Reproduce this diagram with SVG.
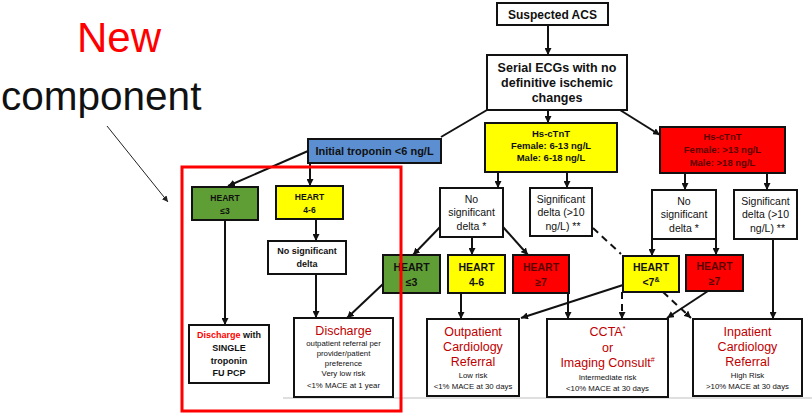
<svg xmlns="http://www.w3.org/2000/svg" width="812" height="416" viewBox="0 0 812 416">
<style>
.t{font-family:"Liberation Sans",Arial,sans-serif;text-anchor:middle;fill:#111}
.b{font-weight:bold}
.box{stroke:#111;stroke-width:2}
.w{fill:#fff}
.y{fill:#ffff00}
.g{fill:#5f9e35}
.r{fill:#ff0000}
.bl{fill:#5b8fd2}
.dr{fill:#5a0000}
.rt{fill:#c00000}
.c{stroke:#111;stroke-width:2;fill:none}
.d{stroke-dasharray:7,5}
</style>
<defs>
<marker id="ah" viewBox="0 0 10 10" refX="10" refY="5" markerWidth="7" markerHeight="7" markerUnits="userSpaceOnUse" orient="auto"><path d="M0,0 L10,5 L0,10 z" fill="#111"/></marker>
<marker id="ah2" viewBox="0 0 10 10" refX="10" refY="5" markerWidth="6" markerHeight="6" markerUnits="userSpaceOnUse" orient="auto"><path d="M0,0 L10,5 L0,10 z" fill="#222"/></marker>
</defs>
<rect width="812" height="416" fill="#fff"/>

<g id="label-new">
<text x="77" y="52" style="font-family:'Liberation Sans',Arial,sans-serif;font-size:42px;fill:#ff0000">New</text>
<text x="1" y="110" style="font-family:'Liberation Sans',Arial,sans-serif;font-size:40.5px;fill:#111">component</text>
</g>

<line x1="283" y1="398" x2="812" y2="398" stroke="#d4d4d4" stroke-width="1.5"/>

<g id="connectors">
<line class="c" x1="548" y1="25" x2="548" y2="55" marker-end="url(#ah)"/>
<line class="c" x1="487" y1="110" x2="441" y2="137"/>
<line class="c" x1="548" y1="110" x2="548" y2="123" marker-end="url(#ah)"/>
<line class="c" x1="620" y1="110" x2="660" y2="135" marker-end="url(#ah)"/>
<line class="c" x1="308" y1="151" x2="228" y2="186" marker-end="url(#ah)"/>
<line class="c" x1="310" y1="163" x2="310" y2="186" marker-end="url(#ah)"/>
<line class="c" x1="316" y1="219" x2="316" y2="241" marker-end="url(#ah)"/>
<line class="c" x1="316" y1="274" x2="316" y2="318" marker-end="url(#ah)"/>
<line class="c" x1="225" y1="220" x2="225" y2="325" marker-end="url(#ah)"/>
<line class="c" x1="498" y1="172" x2="498" y2="188" marker-end="url(#ah)"/>
<line class="c" x1="567" y1="172" x2="567" y2="188" marker-end="url(#ah)"/>
<line class="c" x1="685" y1="173" x2="685" y2="190" marker-end="url(#ah)"/>
<line class="c" x1="767" y1="173" x2="767" y2="190" marker-end="url(#ah)"/>
<line class="c" x1="441" y1="226" x2="413" y2="255" marker-end="url(#ah)"/>
<line class="c" x1="472" y1="237" x2="472" y2="255" marker-end="url(#ah)"/>
<line class="c" x1="503" y1="227" x2="528" y2="255" marker-end="url(#ah)"/>
<line class="c" x1="652" y1="239" x2="652" y2="256" marker-end="url(#ah)"/>
<line class="c" x1="716" y1="239" x2="716" y2="255" marker-end="url(#ah)"/>
<line class="c d" x1="593" y1="228" x2="621" y2="254"/>
<line class="c" x1="773" y1="239" x2="773" y2="319" marker-end="url(#ah)"/>
<line class="c" x1="383" y1="284" x2="347" y2="318" marker-end="url(#ah)"/>
<line class="c" x1="461" y1="293" x2="461" y2="319" marker-end="url(#ah)"/>
<line class="c" x1="568" y1="293" x2="568" y2="319" marker-end="url(#ah)"/>
<line class="c" x1="623" y1="285" x2="521" y2="318" marker-end="url(#ah)"/>
<line class="c d" x1="622" y1="292" x2="622" y2="319" marker-end="url(#ah)"/>
<line class="c d" x1="663" y1="292" x2="691" y2="318" marker-end="url(#ah)"/>
<line class="c" x1="708" y1="291" x2="667" y2="318" marker-end="url(#ah)"/>
<line x1="107" y1="126" x2="168" y2="202" stroke="#222" stroke-width="1" marker-end="url(#ah2)"/>
</g>

<g id="suspected-acs">
<rect class="box w" x="497" y="3" width="111" height="22"/>
<text class="t b" x="552.5" y="18.5" font-size="12">Suspected ACS</text>
</g>
<g id="serial-ecgs">
<rect class="box w" x="487" y="55" width="140" height="55"/>
<text class="t b" x="557" y="72" font-size="12.5">Serial ECGs with no</text>
<text class="t b" x="557" y="87" font-size="12.5">definitive ischemic</text>
<text class="t b" x="557" y="102" font-size="12.5">changes</text>
</g>
<g id="initial-troponin">
<rect class="box bl" x="308" y="139" width="133" height="24"/>
<text class="t b" x="374.5" y="155" font-size="11">Initial troponin &lt;6 ng/L</text>
</g>
<g id="heart-le3-left">
<rect class="box g" x="192" y="187" width="66" height="33"/>
<text class="t b" x="225" y="201" font-size="8.5">HEART</text>
<text class="t b" x="225" y="214" font-size="8.5">≤3</text>
</g>
<g id="heart-46-left">
<rect class="box y" x="276" y="186" width="67" height="33"/>
<text class="t b" x="309.5" y="200" font-size="8.5">HEART</text>
<text class="t b" x="309.5" y="213" font-size="8.5">4-6</text>
</g>
<g id="nosig-left">
<rect class="box w" x="268" y="241" width="78" height="33"/>
<text class="t b" x="307" y="254" font-size="9">No significant</text>
<text class="t b" x="307" y="267" font-size="9">delta</text>
</g>
<g id="discharge-single">
<rect class="box w" x="189" y="325" width="80" height="58"/>
<text class="t b" x="229" y="338" font-size="9"><tspan fill="#ff0000">Discharge</tspan> with</text>
<text class="t b" x="229" y="351" font-size="9">SINGLE</text>
<text class="t b" x="229" y="364" font-size="9">troponin</text>
<text class="t b" x="229" y="376" font-size="9">FU PCP</text>
</g>
<g id="discharge">
<rect class="box w" x="294" y="318" width="99" height="79"/>
<text class="t rt" x="343.5" y="335" font-size="12.5">Discharge</text>
<text class="t" x="343.5" y="346" font-size="7.8">outpatient referral per</text>
<text class="t" x="343.5" y="356" font-size="7.8">provider/patient</text>
<text class="t" x="343.5" y="366" font-size="7.8">preference</text>
<text class="t" x="343.5" y="376" font-size="7.8">Very low risk</text>
<text class="t" x="343.5" y="388" font-size="7.8">&lt;1% MACE at 1 year</text>
</g>
<g id="hs-yellow">
<rect class="box y" x="485" y="123" width="132" height="49"/>
<text class="t b" x="551" y="137" font-size="9.5">Hs-cTnT</text>
<text class="t b" x="551" y="149" font-size="9.5">Female: 6-13 ng/L</text>
<text class="t b" x="551" y="161" font-size="9.5">Male: 6-18 ng/L</text>
</g>
<g id="hs-red">
<rect class="box r" x="660" y="127" width="125" height="46"/>
<text class="t b dr" x="722.5" y="140" font-size="9.5">Hs-cTnT</text>
<text class="t b dr" x="722.5" y="153" font-size="9.5">Female: &gt;13 ng/L</text>
<text class="t b dr" x="722.5" y="166" font-size="9.5">Male: &gt;18 ng/L</text>
</g>
<g id="nosig-mid">
<rect class="box w" x="440" y="188" width="63" height="49"/>
<text class="t" x="471.5" y="203" font-size="10.5">No</text>
<text class="t" x="471.5" y="216" font-size="10.5">significant</text>
<text class="t" x="471.5" y="230" font-size="10.5">delta *</text>
</g>
<g id="sig-mid">
<rect class="box w" x="530" y="188" width="62" height="48"/>
<text class="t" x="561" y="203" font-size="10.5">Significant</text>
<text class="t" x="561" y="216" font-size="10.5">delta (&gt;10</text>
<text class="t" x="563" y="230" font-size="10.5">ng/L) **</text>
</g>
<g id="nosig-right">
<rect class="box w" x="652" y="190" width="64" height="49"/>
<text class="t" x="684" y="205" font-size="10.5">No</text>
<text class="t" x="684" y="218" font-size="10.5">significant</text>
<text class="t" x="684" y="232" font-size="10.5">delta *</text>
</g>
<g id="sig-right">
<rect class="box w" x="734" y="190" width="63" height="49"/>
<text class="t" x="765.5" y="205" font-size="10.5">Significant</text>
<text class="t" x="765.5" y="218" font-size="10.5">delta (&gt;10</text>
<text class="t" x="767.5" y="232" font-size="10.5">ng/L) **</text>
</g>
<g id="heart-le3-mid">
<rect class="box g" x="383" y="255" width="57" height="38"/>
<text class="t b" x="411.5" y="271" font-size="10.5">HEART</text>
<text class="t b" x="411.5" y="286" font-size="10.5">≤3</text>
</g>
<g id="heart-46-mid">
<rect class="box y" x="448" y="255" width="57" height="38"/>
<text class="t b" x="476.5" y="271" font-size="10.5">HEART</text>
<text class="t b" x="476.5" y="286" font-size="10.5">4-6</text>
</g>
<g id="heart-ge7-mid">
<rect class="box r" x="513" y="255" width="56" height="38"/>
<text class="t b dr" x="541" y="271" font-size="10.5">HEART</text>
<text class="t b dr" x="541" y="286" font-size="10.5">≥7</text>
</g>
<g id="heart-lt7">
<rect class="box y" x="623" y="256" width="56" height="36"/>
<text class="t b" x="651" y="271" font-size="10.5">HEART</text>
<text class="t b" x="651" y="286" font-size="10.5">&lt;7<tspan font-size="7" dy="-4">&amp;</tspan></text>
</g>
<g id="heart-ge7-right">
<rect class="box r" x="686" y="255" width="57" height="36"/>
<text class="t b dr" x="714.5" y="270" font-size="10.5">HEART</text>
<text class="t b dr" x="714.5" y="285" font-size="10.5">≥7</text>
</g>
<g id="outpatient">
<rect class="box w" x="427" y="319" width="92" height="77"/>
<text class="t rt" x="473" y="336" font-size="12.5">Outpatient</text>
<text class="t rt" x="473" y="351" font-size="12.5">Cardiology</text>
<text class="t rt" x="473" y="366" font-size="12.5">Referral</text>
<text class="t" x="473" y="378" font-size="7.8">Low risk</text>
<text class="t" x="473" y="389" font-size="7.8">&lt;1% MACE at 30 days</text>
</g>
<g id="ccta">
<rect class="box w" x="547" y="319" width="121" height="78"/>
<text class="t rt" x="607.5" y="336" font-size="12.5">CCTA<tspan font-size="7" dy="-5">*</tspan></text>
<text class="t rt" x="607.5" y="352" font-size="12.5">or</text>
<text class="t rt" x="607.5" y="367" font-size="12.5">Imaging Consult<tspan font-size="7" dy="-5">#</tspan></text>
<text class="t" x="607.5" y="380" font-size="7.8">Intermediate risk</text>
<text class="t" x="607.5" y="391" font-size="7.8">&lt;10% MACE at 30 days</text>
</g>
<g id="inpatient">
<rect class="box w" x="693" y="319" width="109" height="77"/>
<text class="t rt" x="747.5" y="336" font-size="12.5">Inpatient</text>
<text class="t rt" x="747.5" y="351" font-size="12.5">Cardiology</text>
<text class="t rt" x="747.5" y="366" font-size="12.5">Referral</text>
<text class="t" x="747.5" y="378" font-size="7.8">High Risk</text>
<text class="t" x="747.5" y="389" font-size="7.8">&gt;10% MACE at 30 days</text>
</g>

<g id="new-component-frame">
<rect x="182" y="167" width="219" height="244" fill="none" stroke="#ff0000" stroke-width="3"/>
</g>
</svg>
